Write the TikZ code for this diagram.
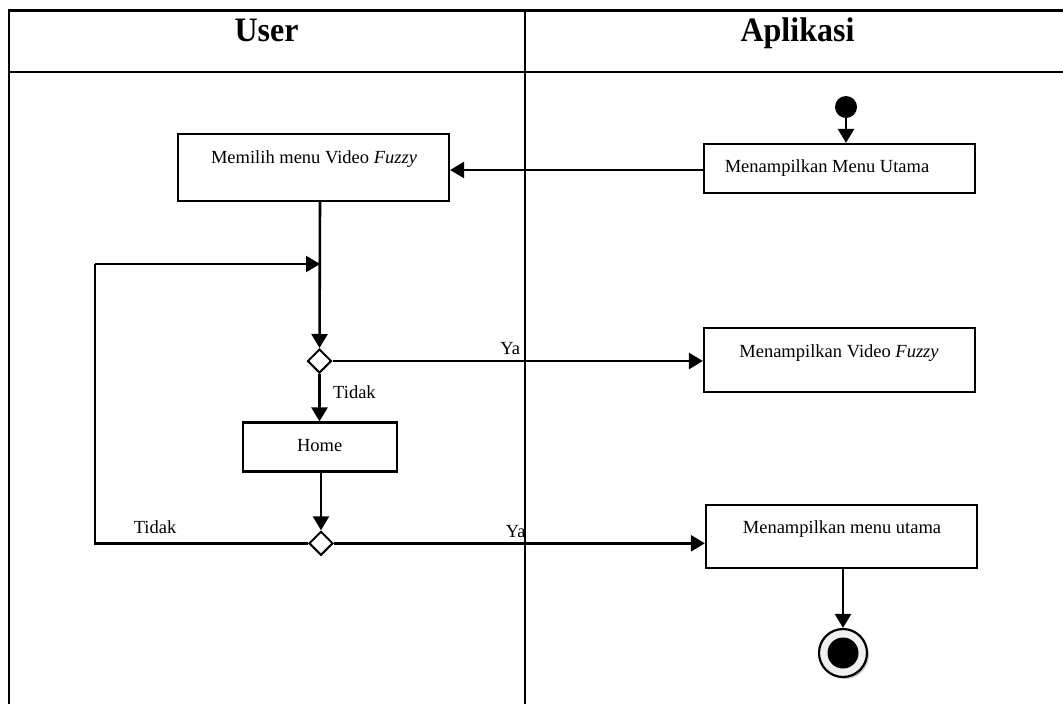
\documentclass[tikz,border=0pt]{standalone}
\usepackage{fontspec}
\setmainfont{Liberation Serif}
\usetikzlibrary{arrows.meta,shapes.geometric,shadows}

\begin{document}
\begin{tikzpicture}[x=1pt,y=-1pt,
  grid/.style={line width=2.4pt},
  act/.style={draw,line width=2.2pt,inner sep=0pt},
  txt/.style={inner sep=0pt,font=\fontsize{18.5}{22}\selectfont,text height=13pt,text depth=4pt},
  head/.style={inner sep=0pt,font=\fontsize{32}{36}\selectfont\bfseries,yscale=1.07},
  flow/.style={line width=2.6pt,-{Triangle[length=14pt,width=16pt]}},
  plain/.style={line width=2.6pt},
  choice/.style={diamond,draw,fill=white,line width=2pt,inner sep=0pt,minimum width=24pt,minimum height=24pt}]

\useasboundingbox (0,0) rectangle (1063,704);

% swimlane table
\draw[grid] (9,10.5) -- (1063,10.5);
\draw[grid] (9,72) -- (1063,72);
\draw[grid] (9,9.3) -- (9,704);
\draw[grid] (525,9.3) -- (525,704);
\node[head,anchor=base] (hu) at (266.5,41.7) {User};
\node[head,anchor=base] (ha) at (797.5,41) {Aplikasi};

% activities
\node[act,minimum width=271pt,minimum height=67pt] (m1) at (313.5,167.5) {};
\node[txt] (m1t) at (314,159) {Memilih menu Video \textit{Fuzzy}};

\node[act,minimum width=271pt,minimum height=49pt] (a1) at (839.5,168.5) {};
\node[txt] (a1t) at (827,168) {Menampilkan Menu Utama};

\node[act,minimum width=271pt,minimum height=64pt] (a2) at (839.5,360) {};
\node[txt] (a2t) at (839,353) {Menampilkan Video \textit{Fuzzy}};

\node[act,minimum width=154pt,minimum height=49pt] (home) at (319.7,447) {};
\node[txt] (homet) at (319.7,447) {Home};

\node[act,minimum width=271pt,minimum height=63pt] (a3) at (841.5,536.5) {};
\node[txt] (a3t) at (842,529) {Menampilkan menu utama};

% start and end states
\node[circle,fill=black,inner sep=0pt,minimum size=22pt] (start) at (846,107) {};
\node[circle,draw,line width=2.2pt,fill=black!6,inner sep=0pt,minimum size=48pt,
      drop shadow={shadow xshift=2pt,shadow yshift=-2pt,fill=black!35,opacity=0.6}] (stop) at (843,653) {};
\node[circle,fill=black,inner sep=0pt,minimum size=31pt] (stopin) at (stop.center) {};

% decisions
\node[choice] (d1) at (319.5,361) {};
\node[choice] (d2) at (321,543.3) {};

% loop-back corner and merge point
\coordinate (lb) at (95,543.3);
\coordinate (lt) at (95,264);
\coordinate (mj) at (320,264);
\coordinate (m1b) at (320,201);

% connectors
\draw[flow] (start.south) -- (start.south |- a1.north);
\draw[flow] (a1.west |- 0,170) -- (m1.east |- 0,170);
\draw[flow] (m1b) -- (d1.north);
\draw[flow] (d1.east) -- (a2.west |- d1.east)
  node[pos=0.48,above=1pt,txt] (ya1) {Ya};
\draw[flow] (d1.south) -- (d1.south |- home.north);
\node[txt,anchor=base west] (tid1) at (333,398) {Tidak};
\draw[flow] (home.south -| d2.north) -- (d2.north);
\draw[flow] (d2.east) -- (a3.west |- d2.east)
  node[pos=0.49,above=1pt,txt] (ya2) {Ya};
\draw[plain] (d2.west) -- (lb) -- (lt);
\draw[flow] (lt) -- (mj);
\node[txt,anchor=base] (tid2) at (155,533) {Tidak};
\draw[flow] (a3.south -| stop.north) -- (stop.north);
\end{tikzpicture}
\end{document}
